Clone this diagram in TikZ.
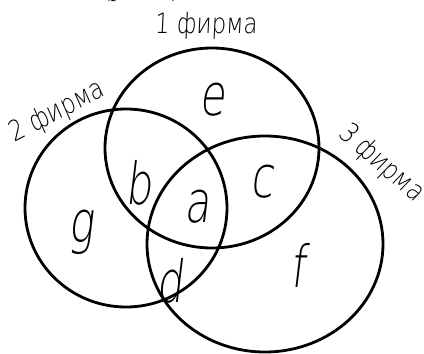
\documentclass[tikz,border=0pt]{standalone}
\usepackage{fontspec}
\newfontfamily\hand{DejaVu Sans ExtraLight}[FakeSlant=0.12, FakeStretch=0.72]
\newfontfamily\handlabel{DejaVu Sans ExtraLight}[FakeSlant=0.05, FakeStretch=0.82]
\newfontfamily\serifcyr{Liberation Serif}
\begin{document}
\begin{tikzpicture}[x=1pt,y=-1pt,
  ring/.style={draw=black,line width=2.8pt},
  region/.style={font=\hand\fontsize{58}{58}\selectfont, inner sep=0pt},
  firm/.style={font=\handlabel\fontsize{28}{28}\selectfont, inner sep=0pt}]
\useasboundingbox (0,0) rectangle (424,354);
\begin{scope}
  \clip (0,0) rectangle (424,354);
  \node[font=\serifcyr\fontsize{24}{24}\selectfont, anchor=base, inner sep=0pt] (cap) at (141,-4) {(рис. 1)};
\end{scope}
% circles
\draw[ring] (212,148) ellipse [x radius=107, y radius=100];
\draw[ring] (126,208) ellipse [x radius=101, y radius=99];
\draw[ring] (265,244) ellipse [x radius=118, y radius=108];
% firm labels
\node[firm] (f1) at (206,26) {1 фирма};
\node[firm, rotate=27] (f2) at (57,112) {2 фирма};
\node[firm, rotate=-41] (f3) at (381,163) {3 фирма};
% region letters
\node[region] (re) at (212,100) {e};
\node[region] (rb) at (139,183) {b};
\node[region] (ra) at (197,207) {a};
\node[region] (rc) at (262,182) {c};
\node[region] (rg) at (81,232) {g};
\node[region] (rd) at (170,281) {d};
\node[region] (rf) at (298,265) {f};
\end{tikzpicture}
\end{document}
